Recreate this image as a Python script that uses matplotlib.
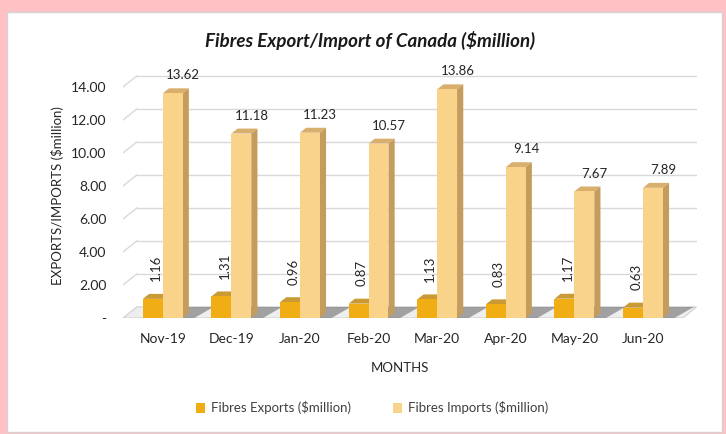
import matplotlib
matplotlib.use("Agg")
import matplotlib.pyplot as plt
from matplotlib.patches import Polygon, Rectangle, Patch

plt.rcParams["font.family"] = ["Lato", "DejaVu Sans"]

months = ["Nov-19", "Dec-19", "Jan-20", "Feb-20", "Mar-20", "Apr-20", "May-20", "Jun-20"]
exports = [1.16, 1.31, 0.96, 0.87, 1.13, 0.83, 1.17, 0.63]
imports = [13.62, 11.18, 11.23, 10.57, 13.86, 9.14, 7.67, 7.89]
y_ticks = [0, 2, 4, 6, 8, 10, 12, 14]
y_tick_labels = ["-", "2.00", "4.00", "6.00", "8.00", "10.00", "12.00", "14.00"]

EXP_FRONT, EXP_TOP, EXP_SIDE = "#F0AE14", "#C99A35", "#B8861C"
IMP_FRONT, IMP_TOP, IMP_SIDE = "#F9D38A", "#D8AF6C", "#C49C5C"
GRID = "#D9D9D9"
TXT = "#262626"

# oblique depth of the 3-D box (wall/floor) and of each bar, in data units
WALL_DX, WALL_DY = 0.20, 0.67
BAR_DX, BAR_DY = 0.09, 0.30
BAR_W = 0.29
X0, X1 = -0.58, 7.58

fig = plt.figure(figsize=(7.26, 4.34), dpi=100)
fig.patch.set_facecolor("#FFC1C4")
fig.patches.append(Rectangle((7 / 726, 2 / 434), 715 / 726, 420 / 434,
                             transform=fig.transFigure, facecolor="white",
                             edgecolor="#D4D4D4", lw=1.0, zorder=-10))

ax = fig.add_axes([123 / 726, 116 / 434, 573.5 / 726, 247.5 / 434])
ax.set_facecolor("none")
ax.set_xlim(X0, X1 + WALL_DX)
ax.set_ylim(0, 15)
for s in ax.spines.values():
    s.set_visible(False)

# back wall gridlines and the diagonal strokes on the side wall
for v in y_ticks[1:]:
    ax.plot([X0 + WALL_DX, X1 + WALL_DX], [v + WALL_DY, v + WALL_DY], color=GRID, lw=1, zorder=1)
    ax.plot([X0, X0 + WALL_DX], [v, v + WALL_DY], color=GRID, lw=1, zorder=1)

# floor
ax.add_patch(Polygon([(X0, 0), (X1, 0), (X1 + WALL_DX, WALL_DY), (X0 + WALL_DX, WALL_DY)],
                     closed=True, facecolor="#EEEEEE", edgecolor="#CFCFCF", lw=0.8, zorder=2))

x = list(range(len(months)))
exp_x = [i - BAR_W / 2 for i in x]
imp_x = [i + BAR_W / 2 for i in x]

# bar shadows on the floor
for i in x:
    left = i - BAR_W
    right = i + BAR_W + BAR_DX
    ax.add_patch(Polygon([(left + 0.05, 0), (right + 0.08, 0),
                          (right + WALL_DX + 0.16, WALL_DY), (left + WALL_DX + 0.12, WALL_DY)],
                         closed=True, facecolor="#6E6E6E", alpha=0.6, lw=0, zorder=3))


def box_faces(xc, h, top_c, side_c, z):
    l, r = xc - BAR_W / 2, xc + BAR_W / 2
    ax.add_patch(Polygon([(l, h), (r, h), (r + BAR_DX, h + BAR_DY), (l + BAR_DX, h + BAR_DY)],
                         closed=True, facecolor=top_c, edgecolor="none", zorder=z))
    ax.add_patch(Polygon([(r, 0), (r + BAR_DX, BAR_DY), (r + BAR_DX, h + BAR_DY), (r, h)],
                         closed=True, facecolor=side_c, edgecolor="none", zorder=z))


for i in x:
    box_faces(exp_x[i], exports[i], EXP_TOP, EXP_SIDE, 4 + 2 * i)
    ax.bar(exp_x[i], exports[i], width=BAR_W, color=EXP_FRONT, zorder=4 + 2 * i)
    box_faces(imp_x[i], imports[i], IMP_TOP, IMP_SIDE, 5 + 2 * i)
    ax.bar(imp_x[i], imports[i], width=BAR_W, color=IMP_FRONT, zorder=5 + 2 * i)

    ax.annotate(f"{imports[i]:.2f}", (imp_x[i] + BAR_DX, imports[i] + BAR_DY),
                xytext=(3, 5), textcoords="offset points", ha="center", va="bottom",
                fontsize=9.5, color=TXT, zorder=30)
    ax.annotate(f"{exports[i]:.2f}", (exp_x[i] + BAR_DX / 2, exports[i] + BAR_DY),
                xytext=(0, 9), textcoords="offset points", ha="center", va="bottom",
                rotation=90, fontsize=9.5, color=TXT, zorder=30)

ax.set_xticks(x)
ax.set_xticklabels(months, fontsize=10, color=TXT)
ax.set_yticks(y_ticks)
ax.set_yticklabels(y_tick_labels, fontsize=10, color=TXT)
ax.tick_params(axis="x", length=0, pad=11)
ax.tick_params(axis="y", length=0, pad=12)

ax.set_xlabel("MONTHS", fontsize=9.5, color=TXT)
ax.xaxis.set_label_coords((400 - 123) / 573.5, -(362 - 318) / 247.5)
ax.set_ylabel("EXPORTS/IMPORTS ($million)", fontsize=9.5, color=TXT)
ax.yaxis.set_label_coords(-(123 - 64) / 573.5, (318 - 196) / 247.5)

fig.text(370 / 726, 1 - 40 / 434, "Fibres Export/Import of Canada ($million)",
         ha="center", va="center", fontsize=13.5, fontweight="bold", fontstyle="italic",
         color="#1a1a1a")

handles = [Patch(facecolor=EXP_FRONT, edgecolor="none"),
           Patch(facecolor=IMP_FRONT, edgecolor="none")]
fig.legend(handles, ["Fibres Exports ($million)", "Fibres Imports ($million)"],
           loc="center", bbox_to_anchor=(372 / 726, 1 - 408 / 434), ncol=2, frameon=False,
           fontsize=9.5, handlelength=0.7, handleheight=0.7, handletextpad=0.4,
           columnspacing=3.2, labelcolor="#404040")

fig.savefig("out.png", dpi=100, facecolor=fig.get_facecolor())
